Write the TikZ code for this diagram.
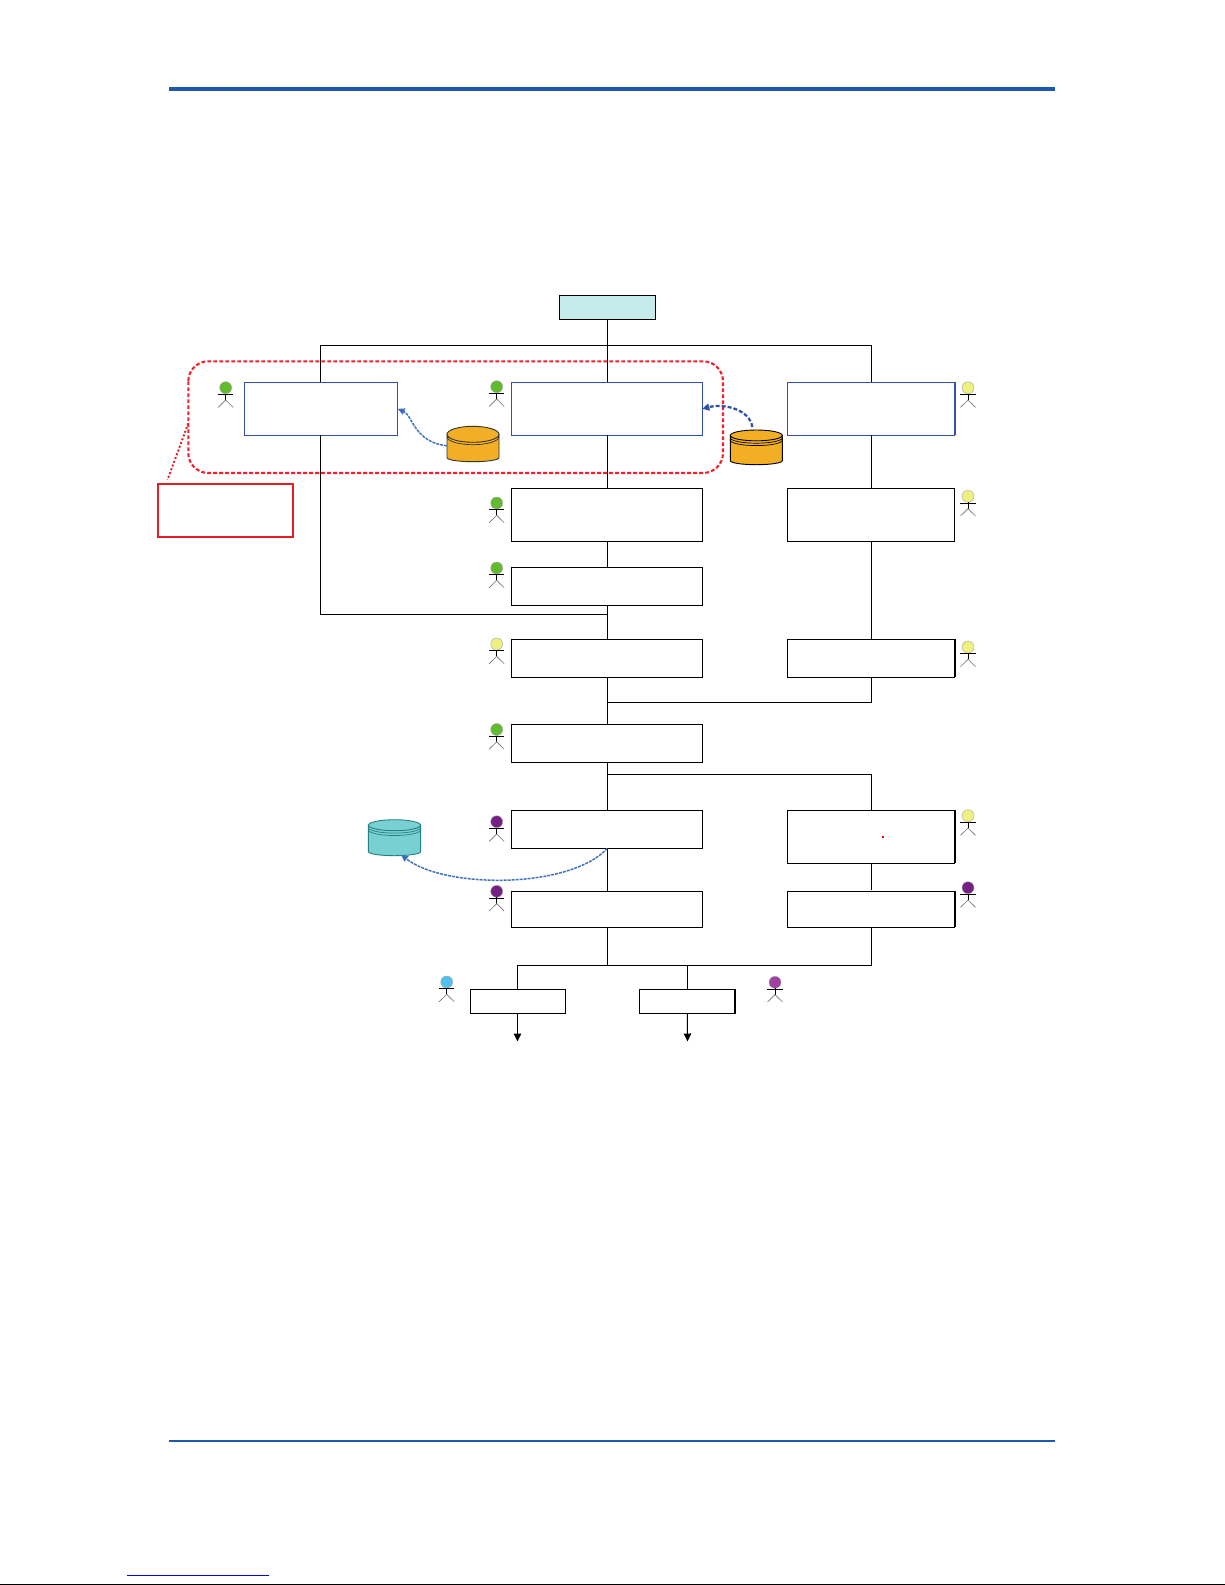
\documentclass[tikz,border=0pt]{standalone}
\usetikzlibrary{arrows.meta}
\definecolor{rulecol}{HTML}{1F5AAA}
\definecolor{boxblue}{HTML}{2F52A6}
\definecolor{flowblue}{HTML}{4472C0}
\definecolor{alertred}{HTML}{E31E24}
\definecolor{dashred}{HTML}{F0202C}
\definecolor{startfill}{HTML}{C5ECEB}
\definecolor{orangefill}{HTML}{F2AE24}
\definecolor{tealfill}{HTML}{78D0D3}
\definecolor{actgreen}{HTML}{62BB2F}
\definecolor{actyellow}{HTML}{EEF07F}
\definecolor{actpurple}{HTML}{742084}
\definecolor{actblue}{HTML}{4FC3EE}
\definecolor{actmagenta}{HTML}{A040A5}
\tikzset{
  base/.style={rectangle,inner sep=0pt,outer sep=0pt},
  plainbox/.style={base,draw=black,line width=1pt},
  bluebox/.style={base,draw=boxblue,line width=1.1pt},
  startbox/.style={plainbox,fill=startfill},
  alertbox/.style={base,draw=alertred,line width=2pt},
  ghost/.style={base},
  conn/.style={draw=black,line width=1.05pt},
  tipconn/.style={conn,-{Triangle[length=8pt,width=7.5pt]}},
  thickedge/.style={line width=1.9pt},
  flowthin/.style={draw=flowblue,line width=1.5pt,dash pattern=on 3pt off 1pt,-{Triangle[length=7pt,width=6.5pt,fill=boxblue]}},
  flowthick/.style={draw=boxblue,line width=2.2pt,dash pattern=on 4pt off 2pt,-{Triangle[length=7pt,width=7pt]}},
  groupline/.style={draw=dashred,line width=2.1pt,dash pattern=on 3.8pt off 2.2pt},
  leader/.style={draw=alertred,line width=1.9pt,dash pattern=on 2pt off 2pt},
  headball/.style={circle,inner sep=0pt,outer sep=0pt,minimum size=12pt,draw=black!35,line width=0.4pt},
  armline/.style={draw=black,line width=0.9pt},
  legline/.style={draw=black!55,line width=0.65pt},
}
% name x1 y1 x2 y2 style
\newcommand{\mybox}[6]{%
  \pgfmathsetmacro{\mbw}{#4-#2}\pgfmathsetmacro{\mbh}{#5-#3}%
  \pgfmathsetmacro{\mbx}{(#4+#2)/2}\pgfmathsetmacro{\mby}{(#5+#3)/2}%
  \node[#6,minimum width=\mbw pt,minimum height=\mbh pt] (#1) at (\mbx,\mby) {};}
% name x y colour
\newcommand{\myactor}[4]{%
  \node[headball,fill=#4] (#1) at (#2,#3) {};
  \draw[armline] (#2-7.6,#3+6.7) -- (#2+7.6,#3+6.7);
  \draw[armline] (#1.south) -- (#2,#3+12.3);
  \draw[legline] (#2-7.5,#3+19.7) -- (#2,#3+12.3) -- (#2+7.5,#3+19.7);}
% name x1 y1 x2 y2 topry fill edge extra-arc-count
\newcommand{\mycyl}[9]{%
  \mybox{#1}{#2}{#3}{#4}{#5}{ghost}
  \pgfmathsetmacro{\cxr}{(#4-#2)/2}\pgfmathsetmacro{\cxm}{(#4+#2)/2}%
  \pgfmathsetmacro{\cyt}{#3+#6}\pgfmathsetmacro{\cyb}{#5-4}%
  \filldraw[fill=#7,draw=#8,line width=0.9pt] (#2,\cyt) -- (#2,\cyb)
     arc[start angle=180,end angle=360,x radius=\cxr pt,y radius=4pt] -- (#4,\cyt) -- cycle;
  \foreach \k in {1,...,#9}{%
    \ifnum\k>0 \pgfmathsetmacro{\cya}{\cyt+2.4*\k}%
    \draw[draw=#8,line width=0.7pt] (#2,\cya) arc[start angle=180,end angle=360,x radius=\cxr pt,y radius=#6 pt];\fi}
  \filldraw[fill=#7,draw=#8,line width=0.9pt] (\cxm,\cyt) ellipse[x radius=\cxr pt,y radius=#6 pt];}
\begin{document}
\begin{tikzpicture}[x=1pt,y=-1pt]
\useasboundingbox (0,0) rectangle (1225,1585);
\fill[white] (0,0) rectangle (1225,1585);
% page furniture
\fill[rulecol] (169,87) rectangle (1055,91);
\fill[rulecol] (169,1440) rectangle (1055,1442);
\fill[black] (0,1583.7) rectangle (1225,1585);
\fill[blue!93!black] (127,1574.5) rectangle (269,1575.7);
% boxes
\mybox{start}{559.3}{295.3}{655.3}{319.3}{startbox}
\mybox{bA}{244.3}{382.3}{397.7}{435.3}{bluebox}
\mybox{bB}{511.3}{382.3}{702.3}{435.3}{bluebox}
\mybox{bC}{787.3}{382.3}{954.7}{435.3}{bluebox}
\mybox{bBtwo}{511.3}{488.3}{702.3}{541.3}{plainbox}
\mybox{bCtwo}{787.3}{488.3}{954.7}{541.3}{plainbox}
\mybox{bBthree}{511.3}{567}{702.3}{605}{plainbox}
\mybox{bBfour}{511.3}{639}{702.3}{677}{plainbox}
\mybox{bCfour}{787.3}{639}{954.7}{677}{plainbox}
\mybox{bBfive}{511.3}{724}{702.3}{762}{plainbox}
\mybox{bBsix}{511.3}{810.3}{702.3}{848.3}{plainbox}
\mybox{bCsix}{787.3}{810.3}{954.7}{863.3}{plainbox}
\mybox{bBseven}{511.3}{891.3}{702.3}{927.3}{plainbox}
\mybox{bCseven}{787.3}{891.3}{954.7}{927.3}{plainbox}
\mybox{bDone}{470.4}{989.3}{565.5}{1013.3}{plainbox}
\mybox{bDtwo}{639.4}{989.3}{735.3}{1013.3}{plainbox}
\mybox{note}{157.9}{484}{293.3}{537}{alertbox}
% heavier right edges
\draw[thickedge,boxblue] ([xshift=0.4pt]bC.north east) -- ([xshift=0.4pt]bC.south east);
\foreach \n in {bCfour,bCsix,bCseven}
  \draw[thickedge,black] ([xshift=0.4pt]\n.north east) -- ([xshift=0.4pt]\n.south east);
\draw[thickedge,black] ([xshift=-0.4pt]bDtwo.north east) -- ([xshift=-0.4pt]bDtwo.south east);
% junctions
\coordinate (jtop) at (607.5,345.5);
\coordinate (jleft) at (607.5,614.5);
\coordinate (jright) at (607.5,702.5);
\coordinate (jsplit) at (607.5,774.5);
\coordinate (jlow) at (607.5,965.5);
\coordinate (jAx) at (320.5,345.5);
\coordinate (jCx) at (871.5,345.5);
\coordinate (jDx) at (517.5,965.5);
\coordinate (endA) at (517.5,1041.5);
\coordinate (endB) at (687.5,1041.5);
% connectors
\draw[conn] (start.south -| jtop) -- (bB.north -| jtop);
\draw[conn] (bA.north -| jAx) -- (jAx) -- (jCx) -- (bC.north -| jCx);
\draw[conn] (bB.south -| jtop) -- (bBtwo.north -| jtop);
\draw[conn] (bC.south -| jCx) -- (bCtwo.north -| jCx);
\draw[conn] (bBtwo.south -| jtop) -- (bBthree.north -| jtop);
\draw[conn] (bBthree.south -| jtop) -- (bBfour.north -| jtop);
\draw[conn] (bA.south -| jAx) -- (jAx |- jleft) -- (jleft);
\draw[conn] (bCtwo.south -| jCx) -- (bCfour.north -| jCx);
\draw[conn] (bBfour.south -| jtop) -- (bBfive.north -| jtop);
\draw[conn] (bCfour.south -| jCx) -- (jCx |- jright) -- (jright);
\draw[conn] (bBfive.south -| jtop) -- (bBsix.north -| jtop);
\draw[conn] (jsplit) -- (jCx |- jsplit) -- (bCsix.north -| jCx);
\draw[conn] (bBsix.south -| jtop) -- (bBseven.north -| jtop);
\draw[conn] (bCsix.south -| jCx) -- ([yshift=1.5pt]bCseven.north -| jCx);
\draw[conn] (bBseven.south -| jtop) -- (jlow);
\draw[conn] (bCseven.south -| jCx) -- (jCx |- jlow) -- (jDx) -- (bDone.north -| jDx);
\draw[conn] (bDtwo.north |- jlow) -- (bDtwo.north);
\draw[tipconn] (bDone.south -| jDx) -- (endA);
\draw[tipconn] (bDtwo.south) -- (endB);
% databases
\mycyl{dbA}{447}{426.3}{499}{461.7}{8}{orangefill}{black!80}{0}
\mycyl{dbB}{730.3}{430}{782.3}{464.7}{5.4}{orangefill}{black}{2}
\mycyl{dbC}{368.4}{819.7}{420.6}{855.7}{5.5}{tealfill}{teal!70!gray}{2}
% group outline and leader
\draw[groupline,rounded corners=20pt] (188.3,361.3) rectangle (723,473);
\coordinate (leadstart) at (188.3,423.3);
\draw[leader] (leadstart) -- ([xshift=9.5pt,yshift=4pt]note.north west);
% data flows
\draw[flowthin] ([yshift=-1.7pt]dbA.west) .. controls (415,443) and (412,415) .. (bA.east);
\draw[flowthick] ([xshift=-4pt,yshift=3pt]dbB.north) .. controls (750,410) and (725,403) .. (bB.east);
\draw[flowthin] ([xshift=0.5pt]bBsix.south) .. controls (570,889) and (445,889) .. ([xshift=6.5pt,yshift=1pt]dbC.south);
% actors
\myactor{aOne}{225.7}{387.7}{actgreen}
\myactor{aTwo}{496.7}{386.7}{actgreen}
\myactor{aThree}{496.7}{503}{actgreen}
\myactor{aFour}{496.7}{568}{actgreen}
\myactor{aFive}{496.7}{644}{actyellow}
\myactor{aSix}{496.7}{729.5}{actgreen}
\myactor{aSeven}{496.7}{821.7}{actpurple}
\myactor{aEight}{496.7}{891.3}{actpurple}
\myactor{aNine}{968}{387.7}{actyellow}
\myactor{aTen}{968}{496.3}{actyellow}
\myactor{aEleven}{968}{647}{actyellow}
\myactor{aTwelve}{968}{815.7}{actyellow}
\myactor{aThirteen}{968}{887.7}{actpurple}
\myactor{aFourteen}{446.7}{982}{actblue}
\myactor{aFifteen}{775}{982.3}{actmagenta}
% stray mark
\fill[red] (882,836) rectangle (884,838);
\end{tikzpicture}
\end{document}
